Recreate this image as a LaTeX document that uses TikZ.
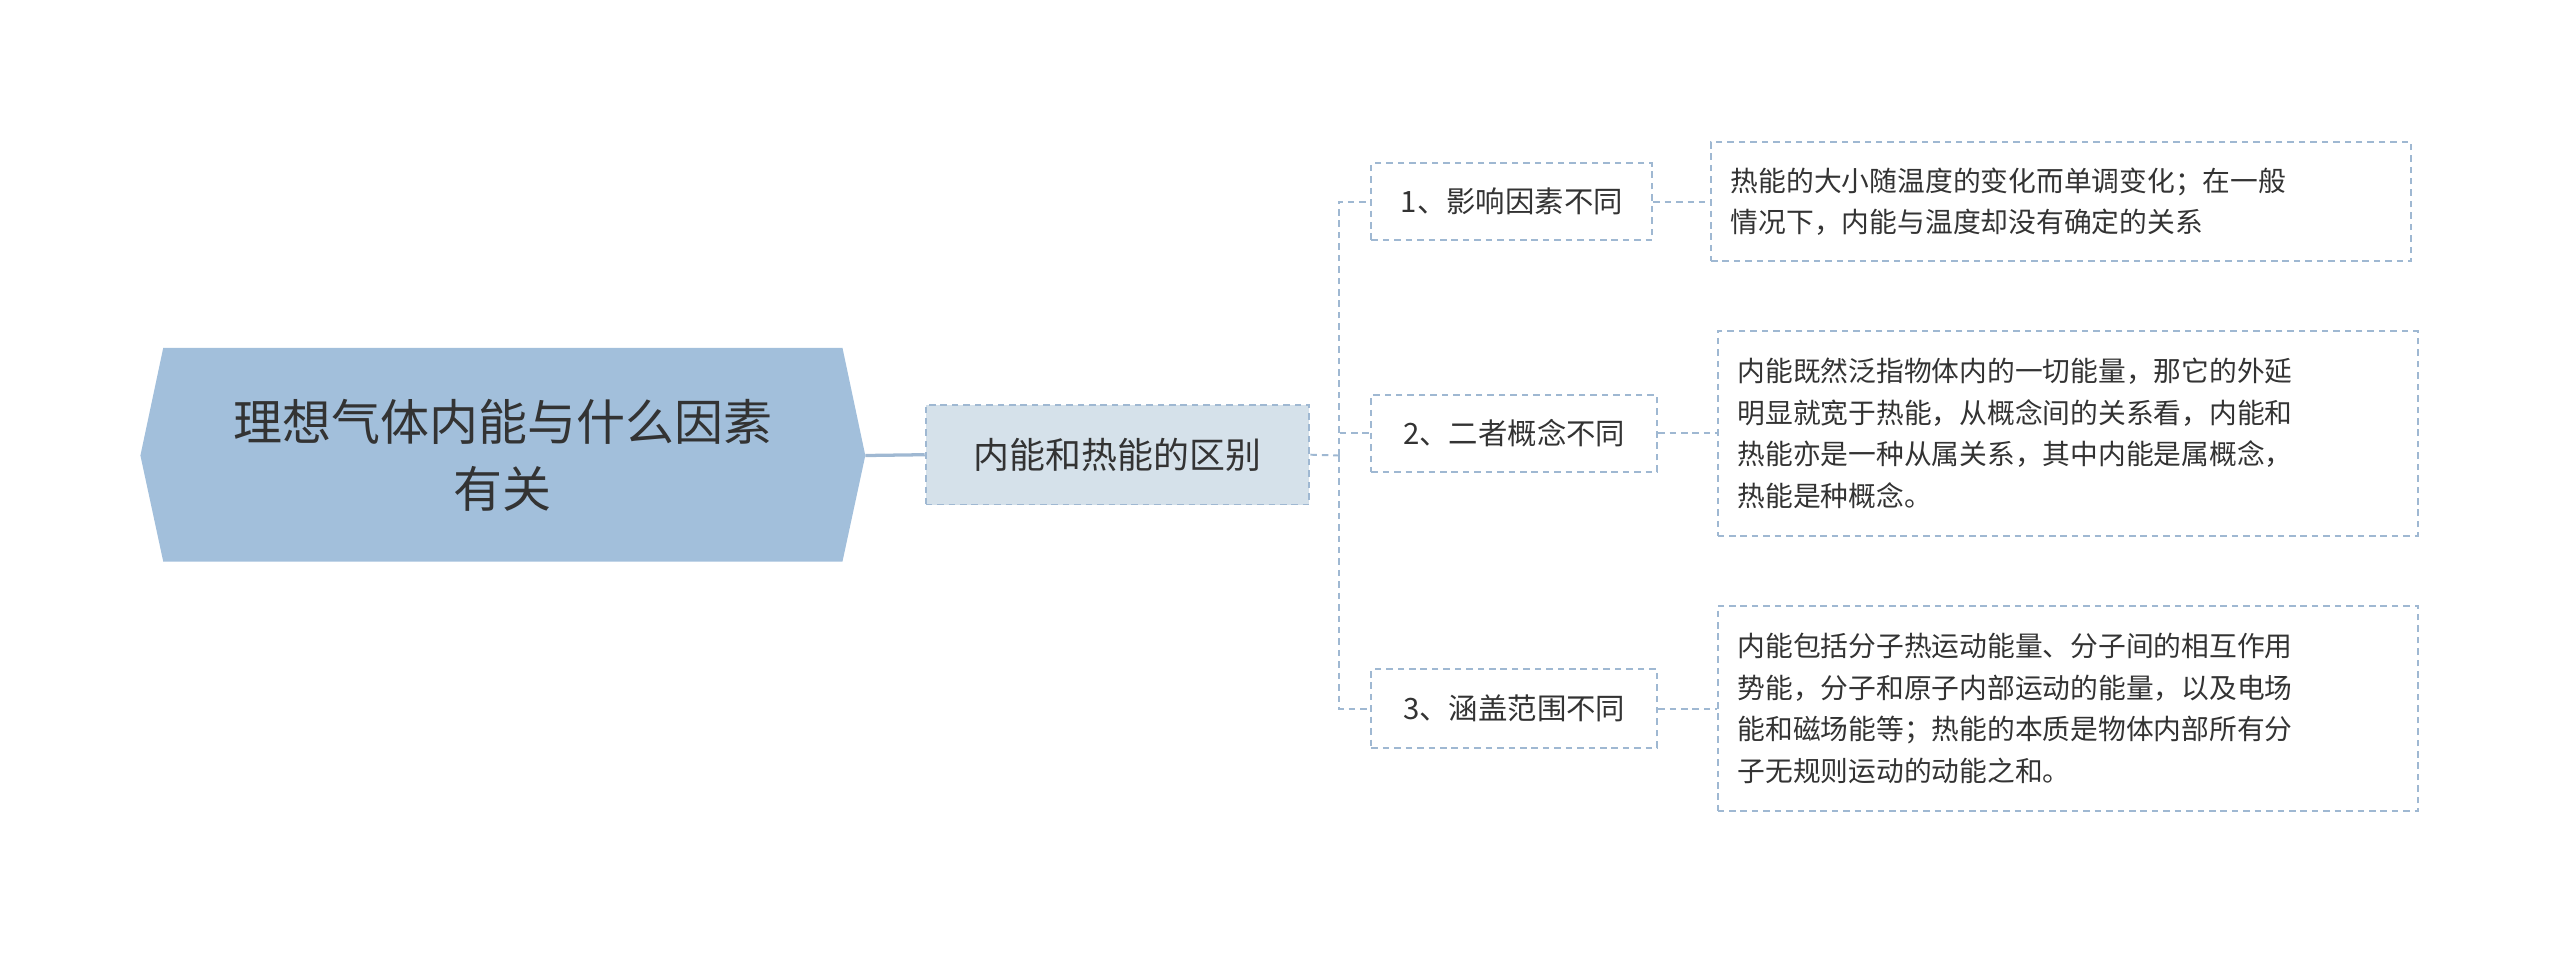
\documentclass[tikz,border=0pt]{standalone}
\usepackage{fontspec}
\setmainfont{Noto Sans CJK SC}
\definecolor{rootc}{HTML}{A2BFDB}
\definecolor{midc}{HTML}{D5E1EA}
\definecolor{linec}{HTML}{9FB8D2}
\definecolor{txt}{HTML}{333333}
\tikzset{
  dbox/.style={draw=linec, dashed, dash pattern=on 4pt off 3pt, line width=1.2pt, text=txt, inner sep=0pt},
  conn/.style={draw=linec, line width=1.2pt, dashed, dash pattern=on 4pt off 3pt},
  leaf/.style={dbox, minimum width=429, font=\fontsize{17}{25.5}\selectfont, align=left},
}
\begin{document}
\begin{tikzpicture}[x=1pt,y=-1pt]
\useasboundingbox (0,0) rectangle (1568,584);
\fill[rootc] (86,279) -- (100,213) -- (516,213) -- (530,279) -- (516,344) -- (100,344) -- cycle;
\node (root) at (308,279) [align=center, font=\fontsize{30}{41}\selectfont, text=txt] {理想气体内能与什么因素\\有关};
\coordinate (rootR) at (530,279);
\node[dbox, fill=midc, minimum width=235, minimum height=61, font=\fontsize{22}{28}\selectfont] (mid) at (684.5,278.5) {内能和热能的区别};
\draw[draw=linec, line width=2pt] (rootR) -- (mid.west);
\coordinate (br) at (820,279);
\node[dbox, minimum width=172, minimum height=47, font=\fontsize{18}{24}\selectfont] (c1) at (926,123.5) {1、影响因素不同};
\node[dbox, minimum width=175, minimum height=47, font=\fontsize{18}{24}\selectfont] (c2) at (927.5,265.5) {2、二者概念不同};
\node[dbox, minimum width=175, minimum height=48, font=\fontsize{18}{24}\selectfont] (c3) at (927.5,434) {3、涵盖范围不同};
\draw[conn] (mid.east) -- (br);
\draw[conn] (br) |- (c1.west);
\draw[conn] (br) |- (c2.west);
\draw[conn] (br) |- (c3.west);
\node[leaf, minimum height=73] (l1) at (1262.5,123.5) {};
\node[anchor=west, align=left, text=txt, font=\fontsize{17}{25.5}\selectfont, inner sep=0pt] (t1) at (1060,123.5) {热能的大小随温度的变化而单调变化；在一般\\情况下，内能与温度却没有确定的关系};
\node[leaf, minimum height=125] (l2) at (1266.5,265.5) {};
\node[anchor=west, align=left, text=txt, font=\fontsize{17}{25.5}\selectfont, inner sep=0pt] (t2) at (1064,265.5) {内能既然泛指物体内的一切能量，那它的外延\\明显就宽于热能，从概念间的关系看，内能和\\热能亦是一种从属关系，其中内能是属概念，\\热能是种概念。};
\node[leaf, minimum height=126] (l3) at (1266.5,434) {};
\node[anchor=west, align=left, text=txt, font=\fontsize{17}{25.5}\selectfont, inner sep=0pt] (t3) at (1064,434) {内能包括分子热运动能量、分子间的相互作用\\势能，分子和原子内部运动的能量，以及电场\\能和磁场能等；热能的本质是物体内部所有分\\子无规则运动的动能之和。};
\draw[conn] (c1.east) -- (l1.west);
\draw[conn] (c2.east) -- (l2.west);
\draw[conn] (c3.east) -- (l3.west);
\end{tikzpicture}
\end{document}
